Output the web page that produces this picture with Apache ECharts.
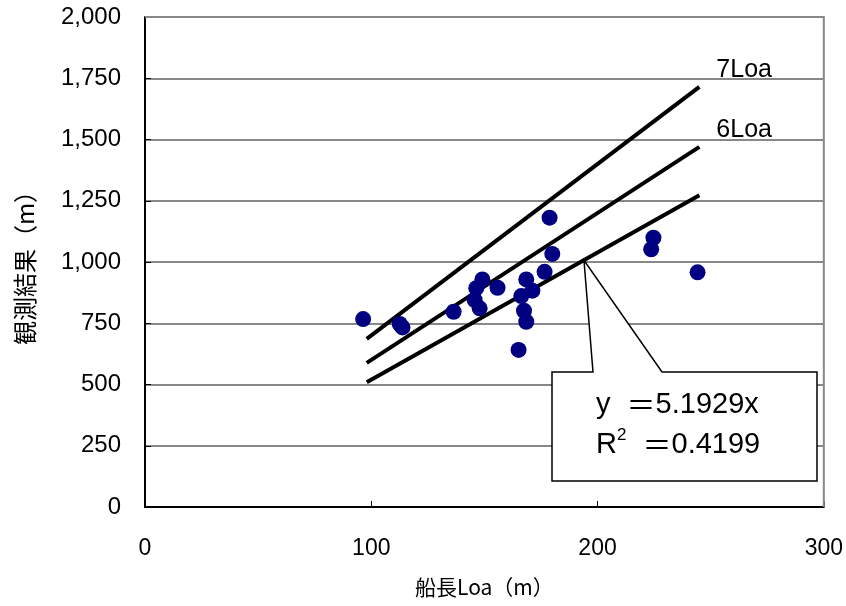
<!DOCTYPE html>
<html><head><meta charset="utf-8">
<script src="https://cdn.jsdelivr.net/npm/echarts@6/dist/echarts.min.js"></script>
<style>html,body{margin:0;padding:0;background:#fff}#c{width:846px;height:606px}</style>
</head><body><div id="c"></div>
<script>
// Scatter data: ship length Loa (m) vs observed result (m)
const loa      = [96.4,112.6,113.8,136.4,149.1,146.4,155.8,145.7,147.9,178.8,180.0,176.6,168.5,171.2,166.3,167.5,168.5,165.1,224.7,223.7,244.2];
const observed = [767, 747, 733, 797, 929, 893, 895, 845, 811, 1181,1033,960, 929, 883, 861, 801, 756, 641, 1099,1052,958];
// Reference lines (endpoints)
const lineX   = [98, 245];
const line7   = [686, 1715];
const line6   = [588, 1470];
const trend   = [509, 1272];
const lineNames = ['7Loa', '6Loa', ''];
// Axes
const xTicks = { min: 0, max: 300, interval: 100 };
const yTicks = { min: 0, max: 2000, interval: 250 };
const xTitle = '船長Loa（m）';
const yTitle = '観測結果（m）';
// Trendline annotation
const eqText = 'y ';
const eqRest = '＝5.1929x';
const r2Rest = '＝0.4199';
const calloutAnchor = [194, 1007];

const sans = '"Liberation Sans",Arial,sans-serif';
const cjk = '"Noto Sans CJK JP",sans-serif';

const chart = echarts.init(document.getElementById('c'), null, {renderer:'canvas'});
const mk = (arr) => lineX.map((x,i)=>[x, arr[i]]);
const lineSeries = (arr, name) => ({
  type:'line', data: mk(arr), symbol:'none', z:3, silent:true,
  lineStyle:{color:'#000', width:4},
  endLabel: name ? {show:true, formatter:name, distance:17, offset:[0,-17],
    fontFamily:sans, fontSize:25, color:'#000'} : {show:false}
});

chart.setOption({
  animation:false,
  grid:{left:145, right:22, top:17, bottom:99, show:false},
  xAxis:{type:'value', min:xTicks.min, max:xTicks.max, interval:xTicks.interval,
    name:xTitle, nameLocation:'middle', nameGap:70,
    nameTextStyle:{fontFamily:cjk, fontSize:21, color:'#000'},
    axisLine:{show:true, lineStyle:{color:'#000', width:2}},
    axisTick:{show:true, inside:true, length:6, lineStyle:{color:'#000'}},
    axisLabel:{margin:30, fontFamily:sans, fontSize:23, color:'#000'},
    splitLine:{show:false}},
  yAxis:{type:'value', min:yTicks.min, max:yTicks.max, interval:yTicks.interval,
    name:yTitle, nameLocation:'middle', nameGap:108, nameRotate:90,
    nameTextStyle:{fontFamily:cjk, fontSize:24, color:'#000'},
    axisLine:{show:true, lineStyle:{color:'#000', width:2}},
    axisTick:{show:true, inside:true, length:6, lineStyle:{color:'#000'}},
    axisLabel:{margin:24, fontFamily:sans, fontSize:24, color:'#000',
      formatter:(v)=>v.toLocaleString('en-US')},
    splitLine:{show:true, lineStyle:{color:'#888', width:2}}},
  series:[
    lineSeries(line7, lineNames[0]),
    lineSeries(line6, lineNames[1]),
    lineSeries(trend, lineNames[2]),
    {type:'scatter', data: loa.map((x,i)=>[x, observed[i]]), symbolSize:16, z:4,
      itemStyle:{color:'#000080', opacity:1}}
  ]
});

const p0 = chart.convertToPixel({gridIndex:0}, [xTicks.min, yTicks.max]);
const p1 = chart.convertToPixel({gridIndex:0}, [xTicks.max, yTicks.min]);
const a = chart.convertToPixel({gridIndex:0}, calloutAnchor);
const bx0 = 552, by0 = 372, bx1 = 817, by1 = 481;
const rich = {
  n:{fontSize:29, fontFamily:sans, color:'#000', lineHeight:36},
  e:{fontSize:29, fontFamily:cjk, color:'#000', lineHeight:36},
  s:{fontSize:17, fontFamily:sans, color:'#000', lineHeight:36, verticalAlign:'top', padding:[0,0,16,0]}
};
chart.setOption({
  graphic:[
    {type:'polyline', z:1, silent:true,
      shape:{points:[[p0[0],p0[1]],[p1[0],p0[1]],[p1[0],p1[1]]]},
      style:{stroke:'#888', lineWidth:2, fill:null}},
    {type:'polygon', z:1, silent:true,
      shape:{points:[[bx0,by0],[593,by0],[a[0],a[1]],[662,by0],[bx1,by0],[bx1,by1],[bx0,by1]]},
      style:{fill:'#fff', stroke:'#000', lineWidth:1.5}},
    {type:'text', z:5, silent:true, left:596, top:390,
      style:{text:'{n|' + eqText + ' }{e|' + eqRest.charAt(0) + '}{n|' + eqRest.slice(1) + '}', rich:rich}},
    {type:'text', z:5, silent:true, left:596, top:427,
      style:{text:'{n|R}{s|2}{n|  }{e|' + r2Rest.charAt(0) + '}{n|' + r2Rest.slice(1) + '}', rich:rich}}
  ]
});
</script></body></html>
